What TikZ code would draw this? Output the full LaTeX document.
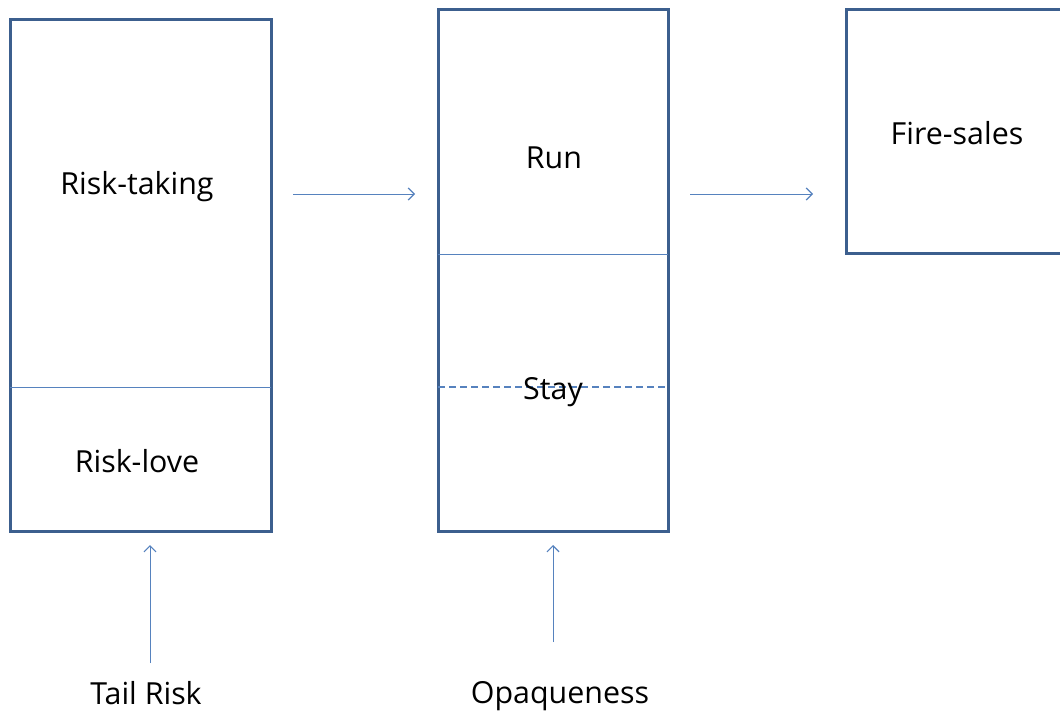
\documentclass[tikz,border=0pt]{standalone}
\usepackage{fontspec}
\setmainfont{Open Sans}
\usetikzlibrary{arrows.meta}
\definecolor{boxblue}{HTML}{3C5F8E}
\definecolor{lineblue}{HTML}{5682BE}
\tikzset{
  panel/.style={draw=boxblue, line width=3bp},
  divider/.style={draw=lineblue, line width=1bp},
  dashdiv/.style={draw=lineblue, line width=2.2bp, dash pattern=on 7bp off 4bp},
  flow/.style={draw=lineblue, line width=1bp, -{Straight Barb[length=6bp,width=12bp,line width=1.2bp]}},
  lbl/.style={font=\fontsize{30.5}{36}\selectfont, text=black, inner sep=0pt, anchor=base},
}
\begin{document}
\begin{tikzpicture}[x=1bp,y=-1bp]
\useasboundingbox (0,0) rectangle (1060,717);
\clip (0,0) rectangle (1060,717);
% panel 1: risk-taking over risk-love
\draw[panel] (10,20) rectangle (271,531);
\coordinate (d1l) at (10,387); \coordinate (d1r) at (271,387);
\draw[divider] (d1l) -- (d1r);
\node[lbl] (risktaking) at (137,195) {Risk-taking};
\node[lbl] (risklove) at (137,472) {Risk-love};
% panel 2: run / stay
\draw[panel] (438,10) rectangle (668,531);
\coordinate (d2l) at (438,254); \coordinate (d2r) at (668,254);
\draw[divider] (d2l) -- (d2r);
\coordinate (d3l) at (438,387); \coordinate (d3r) at (668,387);
\draw[dashdiv] (d3l) -- (d3r);
\node[lbl] (run) at (554,169) {Run};
\node[lbl] (stay) at (553,399) {Stay};
% panel 3: fire-sales
\draw[panel] (846,10) rectangle (1075,253);
\node[lbl] (firesales) at (957,145) {Fire-sales};
% causes below
\node[lbl] (tail) at (146,704) {Tail Risk};
\node[lbl] (opaq) at (560,703) {Opaqueness};
% connectors
\coordinate (a1s) at (293,194); \coordinate (a1e) at (415,194);
\coordinate (a2s) at (690,194); \coordinate (a2e) at (813,194);
\coordinate (a3s) at (150,663); \coordinate (a3e) at (150,545);
\coordinate (a4s) at (553,642); \coordinate (a4e) at (553,545);
\draw[flow] (a1s) -- (a1e);
\draw[flow] (a2s) -- (a2e);
\draw[flow] (a3s) -- (a3e);
\draw[flow] (a4s) -- (a4e);
\end{tikzpicture}
\end{document}
